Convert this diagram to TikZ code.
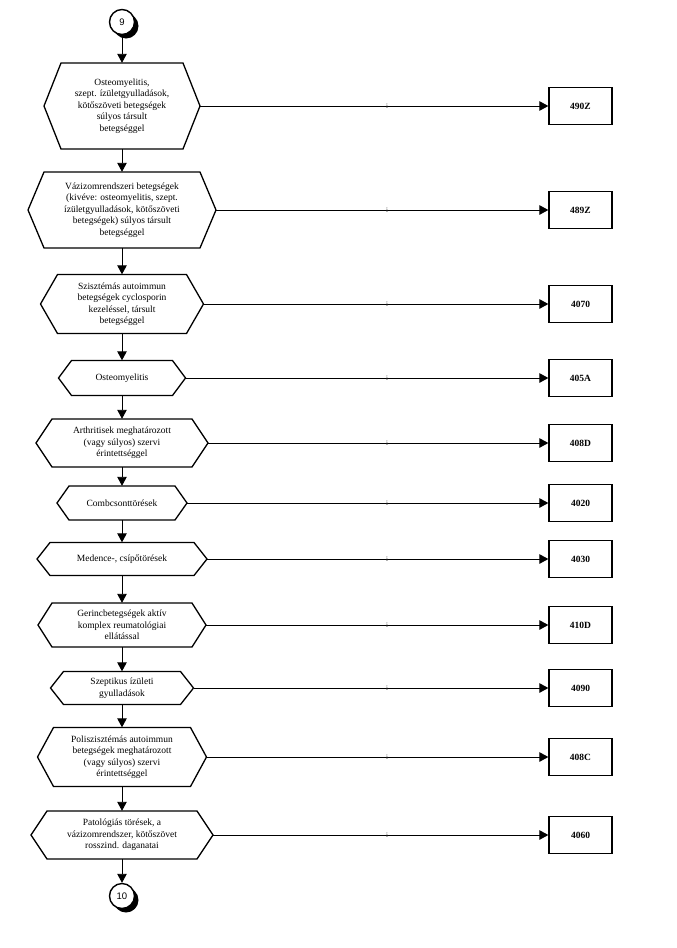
\documentclass[tikz,border=0pt]{standalone}
\usepackage{fontspec}
\setmainfont{Liberation Serif}
\newfontfamily\circfont{Liberation Sans}
\usetikzlibrary{arrows.meta}
\tikzset{
	hexa/.style={inner sep=0pt,align=center,font=\fontsize{9.5}{11.5}\selectfont},
	hexline/.style={line width=1.3pt,line join=miter},
	codebox/.style={draw,line width=1.3pt,minimum width=63pt,minimum height=37pt,inner sep=0pt,font=\fontsize{9.5}{11}\selectfont\bfseries},
	conn/.style={line width=0.9pt,-{Triangle[length=9pt,width=9.5pt]}},
	ilab/.style={font=\fontsize{7}{7}\selectfont,text=black!75,inner sep=0pt},
	circ/.style={circle,draw,line width=1.4pt,fill=white,minimum size=25pt,inner sep=0pt,font=\circfont\fontsize{9.5}{9.5}\selectfont}
}
\begin{document}
\begin{tikzpicture}[x=1pt,y=-1pt]
	\useasboundingbox (0,0) rectangle (677,948);
	% start and end circles
	\fill (126,26) circle (12.5pt);
	\node[circ] (c9) at (122,22) {9};
	\fill (126,900) circle (12.5pt);
	\node[circ] (c10) at (122,896) {10};
	% hexagons and code boxes
	\foreach \n/\y/\w/\h/\d/\code/\txt in {
		1/106/122/86/17/490Z/{Osteomyelitis,\\szept. ízületgyulladások,\\kötőszöveti betegségek\\súlyos társult\\betegséggel},
		2/210/156/76/16/489Z/{Vázizomrendszeri betegségek\\(kivéve: osteomyelitis, szept.\\ízületgyulladások, kötőszöveti\\betegségek) súlyos társult\\betegséggel},
		3/304/129/59/17/4070/{Szisztémás autoimmun\\betegségek cyclosporin\\kezeléssel, társult\\betegséggel},
		4/378/101/35/13/405A/{Osteomyelitis},
		5/443/140/48/16/408D/{Arthritisek meghatározott\\(vagy súlyos) szervi\\érintettséggel},
		6/503/106/34/12/4020/{Combcsonttörések},
		7/559/144/33/13/4030/{Medence-, csípőtörések},
		8/625/140/44/14/410D/{Gerincbetegségek aktív\\komplex reumatológiai\\ellátással},
		9/688/117/33/13/4090/{Szeptikus ízületi\\gyulladások},
		10/757/137/59/16/408C/{Poliszisztémás autoimmun\\betegségek meghatározott\\(vagy súlyos) szervi\\érintettséggel},
		11/835/150/48/16/4060/{Patológiás törések, a\\vázizomrendszer, kötőszövet\\rosszind. daganatai}}{
		\pgfmathsetmacro{\tw}{\w+2*\d}
		\node[hexa,minimum width=\tw pt,minimum height=\h pt] (h\n) at (122,\y) {\txt};
		\draw[hexline] (122-\w/2-\d,\y) -- (122-\w/2,\y-\h/2) -- (122+\w/2,\y-\h/2)
			-- (122+\w/2+\d,\y) -- (122+\w/2,\y+\h/2) -- (122-\w/2,\y+\h/2) -- cycle;
		\node[codebox] (b\n) at (580.5,\y) {\code};
		\draw[conn] (h\n.east) -- (b\n.west);
		\node[ilab] at (387,\y) {i};
	}
	% vertical flow
	\draw[conn] (c9.south) -- (h1.north);
	\foreach \n [evaluate=\n as \m using int(\n+1)] in {1,...,10}
		\draw[conn] (h\n.south) -- (h\m.north);
	\draw[conn] (h11.south) -- (c10.north);
\end{tikzpicture}
\end{document}
